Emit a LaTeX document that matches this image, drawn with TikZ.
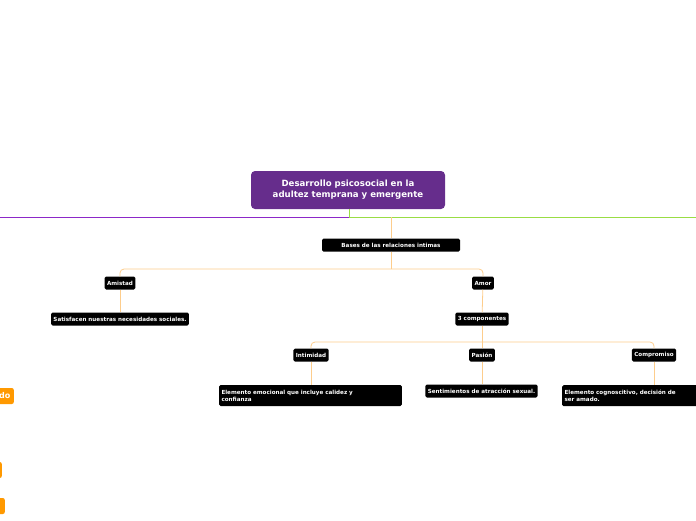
\documentclass[tikz,border=0pt]{standalone}
\usepackage{fontspec}
\setmainfont{DejaVu Sans}
\usetikzlibrary{positioning}
\definecolor{rootpurple}{RGB}{102,45,140}
\definecolor{linkorange}{RGB}{253,205,140}
\definecolor{sideorange}{RGB}{255,153,0}
\definecolor{limegreen}{RGB}{153,221,68}
\definecolor{violetline}{RGB}{140,40,200}
\tikzset{
  topic/.style={fill=black, text=white, rounded corners=1.5pt, font=\bfseries\fontsize{5.6}{7}\selectfont, inner sep=2.4pt, minimum height=13pt},
  longtopic/.style={topic, align=left, text width=#1, minimum height=21pt},
  link/.style={draw=linkorange, line width=0.8pt, rounded corners=4pt},
  sidebox/.style={fill=sideorange, text=white, rounded corners=2pt, font=\bfseries\fontsize{8}{9}\selectfont, minimum height=16pt}
}
\begin{document}
\begin{tikzpicture}[x=1pt,y=-1pt]
      \useasboundingbox (0,0) rectangle (696,520);
      \clip (0,0) rectangle (696,520);

      % central topic
      \node[fill=rootpurple, text=white, rounded corners=4pt, align=center, minimum width=194pt, minimum height=38pt, font=\bfseries\fontsize{8.6}{11}\selectfont] (root) at (348,190) {Desarrollo psicosocial en la\\adultez temprana y emergente};
      \coordinate (hub) at (349,217);
      \draw[limegreen, line width=1pt] (root.south -| hub) -- (hub) -- (696,217);
      \draw[violetline, line width=1pt] (hub) -- (0,217);

      \node[topic, minimum width=138pt] (bases) at (391,245) {Bases de las relaciones intimas};
      \draw[link] (391,217) -- (bases);

      \node[topic] (amistad) at (120,283) {Amistad};
      \node[topic] (amor) at (483,283) {Amor};
      \node[topic] (satisf) at (120,319) {Satisfacen nuestras necesidades sociales.};
      \node[topic] (tres) at (482,319) {3 componentes};
      \node[topic] (intim) at (311,355) {Intimidad};
      \node[topic] (pasion) at (482,355) {Pasión};
      \node[topic] (compr) at (654,355) {Compromiso};
      \node[longtopic=178pt] (emoc) at (310.5,395.5) {Elemento emocional que incluye calidez y\\confianza};
      \node[topic] (sent) at (481.5,391) {Sentimientos de atracción sexual.};
      \node[longtopic=150pt, anchor=north west] (cogn) at (562,385) {Elemento cognoscitivo, decisión de\\ser amado.};

      \draw[link] (bases.south) -- (391,269);
      \draw[link] (391,269) -| (amistad.north);
      \draw[link] (391,269) -| (amor.north);
      \draw[link] (amistad) -- (satisf);
      \draw[link] (amor) -- (tres);
      \draw[link] (tres.south) -- (482,342);
      \draw[link] (482,342) -| (intim.north);
      \draw[link] (482,342) -| (compr.north);
      \draw[link] (482,342) -- (pasion);
      \draw[link] (intim) -- (emoc.north -| intim);
      \draw[link] (pasion) -- (sent.north -| pasion);
      \draw[link] (compr) -- (cogn.north -| compr);

      % side topics cut by the edge
      \node[sidebox, anchor=east] (side1) at (14,396) {do};
      \node[sidebox, anchor=east, minimum width=20pt] (side2) at (2,470) {};
      \node[sidebox, anchor=east, minimum width=20pt] (side3) at (5,506) {};
\end{tikzpicture}
\end{document}
